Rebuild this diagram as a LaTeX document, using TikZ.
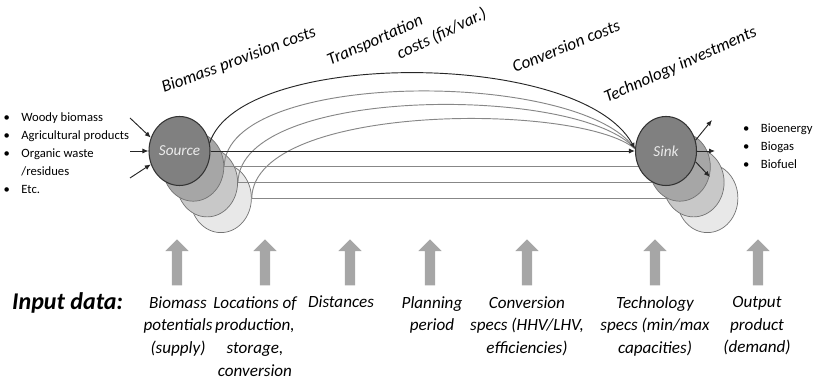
\documentclass[tikz,border=0pt]{standalone}
\usepackage{fontspec}
\setmainfont{Carlito}
\usepackage{tikz}
\usetikzlibrary{arrows.meta,positioning,shapes.geometric,shapes.arrows}
\definecolor{gst0}{RGB}{128,128,128}
\definecolor{gst1}{RGB}{166,166,166}
\definecolor{gst2}{RGB}{200,200,200}
\definecolor{gst3}{RGB}{232,232,232}
\definecolor{glink}{RGB}{135,135,135}
\definecolor{gfeed}{RGB}{166,166,166}
\newcommand{\blt}{\makebox[5.3mm][l]{\textbullet}}
\pgfdeclarelayer{front}
\pgfsetlayers{main,front}

\begin{document}
\begin{tikzpicture}[x=3mm, y=3mm,
  stock/.style={draw=black!55, ellipse, minimum width=18.3mm, minimum height=20.7mm,
                inner sep=0pt, line width=0.6pt},
  mainstock/.style={stock, draw=black!80, line width=0.9pt, fill=gst0,
                    text=black!8, font=\fontsize{13}{15}\selectfont\itshape},
  flow/.style={-{Latex[length=1.8mm, width=1.5mm]}, line width=0.8pt, draw=black!85},
  link/.style={line width=0.8pt, draw=glink},
  bullets/.style={align=left, inner sep=0pt, font=\fontsize{10.8}{15.4}\selectfont},
  costlabel/.style={anchor=base west, inner sep=0pt, font=\fontsize{14.6}{16}\selectfont\itshape},
  datalabel/.style={anchor=north, align=center, inner sep=0pt,
                    font=\fontsize{14.6}{19.4}\selectfont\itshape},
  datafeed/.style={single arrow, fill=gfeed, draw=none, rotate=90,
                   inner xsep=0pt, inner ysep=1.5mm, minimum height=13.8mm,
                   single arrow head extend=1.95mm, single arrow tip angle=90,
                   single arrow head indent=0pt}
]
\useasboundingbox (0,0) rectangle (81.6,38.6);

% source stack, back to front
\node[stock, fill=gst3] (src3) at (22.09,18.79) {};
\node[stock, fill=gst2] (src2) at (20.71,20.36) {};
\node[stock, fill=gst1] (src1) at (19.33,21.93) {};
\node[mainstock] (src0) at (17.95,23.5) {Source};

% sink stack sits above the links
\begin{pgfonlayer}{front}
\node[stock, fill=gst3] (snk3) at (70.74,18.79) {};
\node[stock, fill=gst2] (snk2) at (69.36,20.36) {};
\node[stock, fill=gst1] (snk1) at (67.98,21.93) {};
\node[mainstock] (snk0) at (66.6,23.5) {Sink};
\end{pgfonlayer}

% straight and curved links
\draw[link] (src3.east) -- (snk3.west);
\draw[link] (src2.east) -- (snk2.west);
\draw[link] (src1.east) -- (snk1.west);
\draw[link] (src3.east) .. controls (25.4,28.37) and (58.0,28.37) .. (snk0.176);
\draw[link] (src2.east) .. controls (24.0,30.11) and (58.0,30.11) .. (snk0.176);
\draw[link] (src1.east) .. controls (22.6,31.71) and (58.0,31.71) .. (snk0.176);
\draw[flow] (src0.east) -- (snk0.west);
\draw[flow] (src0.15) .. controls (24.0,33.7) and (58.0,33.7) .. (snk0.176);

% feedstock in
\coordinate (inwood) at (13.0,26.8);
\coordinate (inagri) at (13.0,23.5);
\coordinate (inwaste) at (13.0,20.8);
\draw[flow] (inwood) -- (src0.155);
\draw[flow] (inagri) -- (src0.west);
\draw[flow] (inwaste) -- (src0.205);

% products out
\coordinate (outenergy) at (71.2,26.6);
\coordinate (outgas) at (71.5,23.5);
\coordinate (outfuel) at (71.0,20.9);
\begin{pgfonlayer}{front}
\draw[flow] (snk0.20) -- (outenergy);
\draw[flow] (snk0.east) -- (outgas);
\draw[flow] (snk0.-20) -- (outfuel);
\end{pgfonlayer}

\node[bullets, anchor=north west] (feedstock) at (0.35,27.35)
  {\blt Woody biomass\\\blt Agricultural products\\\blt Organic waste\\
   \hspace*{5.3mm}/residues\\\blt Etc.};
\node[bullets, anchor=north west] (products) at (74.3,26.25)
  {\blt Bioenergy\\\blt Biogas\\\blt Biofuel};

% cost labels
\node[costlabel, rotate=20.5] (provcost) at (16.4,29.3) {Biomass provision costs};
\node[costlabel, rotate=24] (transcost) at (33.0,32.0) {Transportation};
\node[costlabel, rotate=26] (transfix) at (40.0,32.6) {costs (fix/var.)};
\node[costlabel, rotate=22] (convcost) at (51.5,31.3) {Conversion costs};
\node[costlabel, rotate=24] (techinv) at (60.7,28.3) {Technology investments};

% input data
\node[anchor=base west, inner sep=0pt, font=\fontsize{20.5}{24}\selectfont\bfseries\itshape]
  (inputdata) at (1.2,7.6) {Input data:};
\node[datalabel] (potential) at (17.8,9.0) {Biomass\\potentials\\(supply)};
\node[datalabel] (location) at (25.5,9.0) {Locations of\\production,\\storage,\\conversion};
\node[datalabel] (distance) at (34.1,9.0) {Distances};
\node[datalabel] (planning) at (43.2,9.0) {Planning\\period};
\node[datalabel] (convspec) at (52.7,9.0) {Conversion\\specs (HHV/LHV,\\efficiencies)};
\node[datalabel] (techspec) at (65.5,9.0) {Technology\\specs (min/max\\capacities)};
\node[datalabel] (demand) at (75.7,9.0) {Output\\product\\(demand)};

\foreach \x [count=\i] in {17.7,26.5,35.0,43.0,52.7,65.5,75.8}
  \node[datafeed] (feed\i) at (\x,12.1) {};
\end{tikzpicture}
\end{document}
